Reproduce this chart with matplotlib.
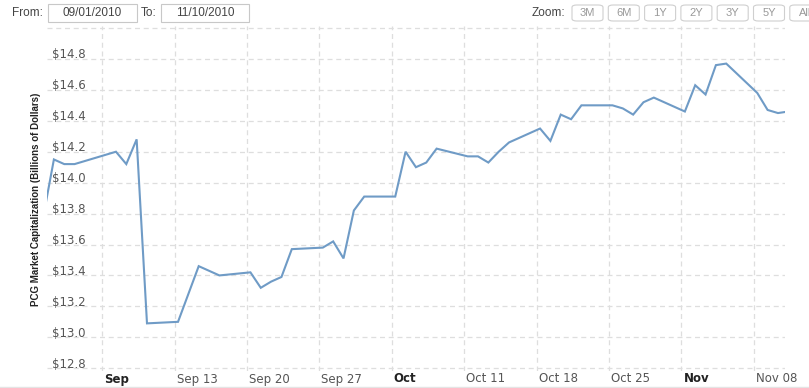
"""PCG market capitalization, Sep 1 - Nov 10 2010 (Highstock style chart)."""

from datetime import datetime, timedelta

import matplotlib

matplotlib.use("Agg")
import matplotlib.dates as mdates
import matplotlib.pyplot as plt
from matplotlib.patches import FancyBboxPatch
from matplotlib.transforms import ScaledTranslation, blended_transform_factory

# -- Data -------------------------------------------------------------------
trade_dates = [
    "2010-08-31", "2010-09-01", "2010-09-02", "2010-09-03", "2010-09-07",
    "2010-09-08", "2010-09-09", "2010-09-10", "2010-09-13", "2010-09-14",
    "2010-09-15", "2010-09-16", "2010-09-17", "2010-09-20", "2010-09-21",
    "2010-09-22", "2010-09-23", "2010-09-24", "2010-09-27", "2010-09-28",
    "2010-09-29", "2010-09-30", "2010-10-01", "2010-10-04", "2010-10-05",
    "2010-10-06", "2010-10-07", "2010-10-08", "2010-10-11", "2010-10-12",
    "2010-10-13", "2010-10-14", "2010-10-15", "2010-10-18", "2010-10-19",
    "2010-10-20", "2010-10-21", "2010-10-22", "2010-10-25", "2010-10-26",
    "2010-10-27", "2010-10-28", "2010-10-29", "2010-11-01", "2010-11-02",
    "2010-11-03", "2010-11-04", "2010-11-05", "2010-11-08", "2010-11-09",
    "2010-11-10", "2010-11-11",
]
market_cap = [
    13.79, 14.15, 14.12, 14.12, 14.20,
    14.12, 14.28, 13.09, 13.10, 13.28,
    13.46, 13.43, 13.40, 13.42, 13.32,
    13.36, 13.39, 13.57, 13.58, 13.62,
    13.51, 13.82, 13.91, 13.91, 14.20,
    14.10, 14.13, 14.22, 14.17, 14.17,
    14.13, 14.20, 14.26, 14.35, 14.27,
    14.44, 14.41, 14.50, 14.50, 14.48,
    14.44, 14.52, 14.55, 14.46, 14.63,
    14.57, 14.76, 14.77, 14.58, 14.47,
    14.45, 14.46,
]

tick_dates = [
    "2010-09-06", "2010-09-13", "2010-09-20", "2010-09-27", "2010-10-04",
    "2010-10-11", "2010-10-18", "2010-10-25", "2010-11-01", "2010-11-08",
]
tick_labels = ["Sep", "Sep 13", "Sep 20", "Sep 27", "Oct",
               "Oct 11", "Oct 18", "Oct 25", "Nov", "Nov 08"]
bold_labels = {"Sep", "Oct", "Nov"}

y_ticks = [12.8, 13.0, 13.2, 13.4, 13.6, 13.8, 14.0, 14.2, 14.4, 14.6, 14.8]

from_date = "09/01/2010"
to_date = "11/10/2010"
zoom_buttons = ["3M", "6M", "1Y", "2Y", "3Y", "5Y", "All"]

LINE_COLOR = "#6f9bc6"
GRID_COLOR = "#dedede"
W, H = 809, 388


def px(x, y):
    """Pixel (from top-left) to figure fraction."""
    return x / W, 1 - y / H


def main() -> None:
    fig = plt.figure(figsize=(W / 100, H / 100), dpi=100)
    fig.patch.set_facecolor("white")

    # plot area: x 47..785, y 26..371 (pixels)
    ax = fig.add_axes([47 / W, 1 - 371 / H, 738 / W, 345 / H])
    for s in ax.spines.values():
        s.set_visible(False)

    # timestamps sit ~8h after midnight ticks in the source
    offset = timedelta(hours=8)
    x = [datetime.strptime(d, "%Y-%m-%d") + offset for d in trade_dates]
    ax.plot(x, market_cap, color=LINE_COLOR, lw=1.5, solid_joinstyle="miter",
            zorder=3)

    ax.set_xlim(datetime(2010, 8, 31, 16), datetime(2010, 11, 11, 0, 20))
    ax.set_ylim(12.782, 15.013)

    # -- Grid ---------------------------------------------------------------
    ticks = [datetime.strptime(d, "%Y-%m-%d") for d in tick_dates]
    for t in ticks:
        ax.axvline(t, color=GRID_COLOR, lw=0.9, ls=(0, (4, 3)), zorder=1)
    for v in y_ticks + [15.0]:
        ax.axhline(v, color=GRID_COLOR, lw=0.9, ls=(0, (4, 3)), zorder=1)
    ax.set_xticks([])
    ax.set_yticks([])

    # -- Y labels (inside plot, left aligned, above grid line) -------------
    ytr = blended_transform_factory(ax.transAxes, ax.transData)
    yoff = ScaledTranslation(5 / 100, 4 / 100, fig.dpi_scale_trans)
    for v in y_ticks:
        ax.text(0, v, f"${v:.1f}", transform=ytr + yoff, ha="left",
                va="center", fontsize=8.5, color="#555555",
                family="DejaVu Sans", zorder=4)

    # -- X labels (left aligned at the tick) --------------------------------
    xtr = blended_transform_factory(ax.transData, ax.transAxes)
    xoff = ScaledTranslation(2 / 100, -8 / 100, fig.dpi_scale_trans)
    for t, lab in zip(ticks, tick_labels):
        bold = lab in bold_labels
        ax.text(mdates.date2num(t), 0, lab, transform=xtr + xoff, ha="left",
                va="center", fontsize=8.5, family="DejaVu Sans",
                fontweight="bold" if bold else "normal",
                color="#222222" if bold else "#555555")

    # -- Axis title ---------------------------------------------------------
    fig.text(*px(36, 199), "PCG Market Capitalization (Billions of Dollars)",
             rotation=90, ha="center", va="center", fontsize=7,
             fontweight="bold", color="#222222",
             family=["Liberation Sans", "DejaVu Sans"])

    # -- Range selector controls --------------------------------------------
    ctl = dict(fontsize=8.5, color="#444444", family="Liberation Sans",
               va="center")
    fig.text(*px(12, 13), "From:", ha="left", **ctl)
    fig.text(*px(141, 13), "To:", ha="left", **ctl)
    for (x0, x1), txt in zip([(48, 137), (161, 249)], [from_date, to_date]):
        fig.patches.append(FancyBboxPatch(
            px(x0, 22), (x1 - x0) / W, 18 / H, boxstyle="square,pad=0",
            transform=fig.transFigure, fc="white", ec="#c8c8c8", lw=0.8))
        fig.text(*px((x0 + x1) / 2, 13), txt, ha="center", **ctl)

    fig.text(*px(565, 13), "Zoom:", ha="right", **ctl)
    bx = 572
    for lab in zoom_buttons:
        fig.patches.append(FancyBboxPatch(
            px(bx, 21), 31 / W, 16 / H,
            boxstyle="round,pad=0,rounding_size=0.006",
            transform=fig.transFigure, fc="white", ec="#cfcfcf", lw=0.8))
        fig.text(*px(bx + 15.5, 13), lab, ha="center", fontsize=8,
                 color="#999999", family="Liberation Sans", va="center")
        bx += 36.3

    # faint navigator border at the bottom
    fig.add_artist(plt.Line2D([0, 1], [1 / H, 1 / H], color="#e4e4e4",
                              lw=1, transform=fig.transFigure))

    fig.savefig("out.png", dpi=100)
    plt.close(fig)


if __name__ == "__main__":
    main()
